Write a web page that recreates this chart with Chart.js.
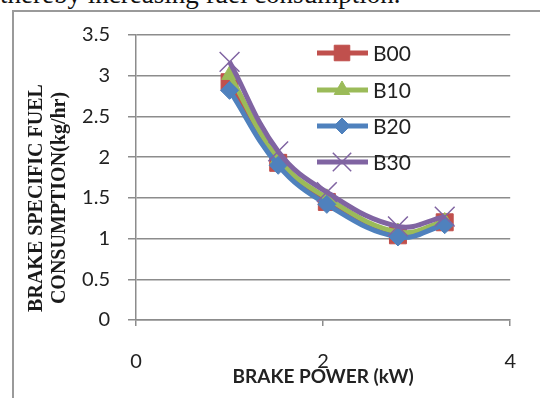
<!DOCTYPE html>
<html>
<head>
<meta charset="utf-8">
<script src="https://cdn.jsdelivr.net/npm/chart.js@4.4.1/dist/chart.umd.min.js"></script>
<style>
  html, body { margin: 0; padding: 0; background: #fff; }
  body { width: 540px; height: 398px; position: relative; overflow: hidden; }
  #topText { position: absolute; left: 0; top: -19px; font: 27px "Liberation Serif"; line-height: 27px; white-space: nowrap; color: #111; }
  #frame { position: absolute; left: 12px; top: 10px; width: 600px; height: 500px; border-left: 2px solid #9a9a9a; border-top: 2px solid #9a9a9a; }
  #wrap { position: absolute; left: 0; top: 0; width: 540px; height: 398px; }
</style>
</head>
<body>
<div id="topText">thereby increasing fuel consumption.</div>
<div id="frame"></div>
<div id="wrap"><canvas id="bsfcChart"></canvas></div>
<script>
// Dados
const brakePower = [1.0, 1.52, 2.04, 2.8, 3.3];
const b00 = [2.92, 1.93, 1.45, 1.04, 1.2];
const b10 = [3.01, 1.98, 1.5, 1.08, 1.21];
const b20 = [2.82, 1.9, 1.42, 1.02, 1.17];
const b30 = [3.17, 2.07, 1.57, 1.15, 1.27];
const seriesNames = ['B00', 'B10', 'B20', 'B30'];
const xTickValues = [0, 2, 4];
const xTickLabels = ['0', '2', '4'];
const yTickValues = [0, 0.5, 1, 1.5, 2, 2.5, 3, 3.5];
const yTickLabels = ['0', '0.5', '1', '1.5', '2', '2.5', '3', '3.5'];

const gridColor = '#8c8c8c';
const font = 'Lato';

function pts(ys) {
    return brakePower.map((x, i) => ({ x: x, y: ys[i] }));
}

function makeSet(name, ys, color, style, radius, order) {
    return {
        label: name,
        data: pts(ys),
        showLine: true,
        borderColor: color,
        backgroundColor: color,
        borderWidth: 5,
        tension: 0.4,
        pointStyle: style,
        pointRadius: radius,
        pointBorderWidth: style === 'crossRot' ? 1.5 : 1,
        pointBorderColor: color,
        pointBackgroundColor: color,
        order: order
    };
}

// Legenda e título do eixo Y desenhados à mão
const extras = {
    id: 'extras',
    afterDraw(chart) {
        const ctx = chart.ctx;
        ctx.save();
        ctx.fillStyle = '#1a1a1a';
        ctx.font = 'bold 20px "Liberation Serif"';
        ctx.textAlign = 'center';
        ctx.textBaseline = 'middle';
        ctx.translate(37, 198);
        ctx.rotate(-Math.PI / 2);
        ctx.fillText('BRAKE SPECIFIC FUEL', 0, 0);
        ctx.fillText('CONSUMPTION(kg/hr)', 0, 23);
        ctx.restore();

        const rows = [53, 90, 126, 162];
        const legendRadius = { rect: 11, triangle: 9, rectRot: 8, crossRot: 13 };
        chart.data.datasets.forEach((ds, i) => {
            const y = rows[i];
            ctx.save();
            ctx.strokeStyle = ds.borderColor;
            ctx.lineWidth = 5;
            ctx.beginPath();
            ctx.moveTo(317, y);
            ctx.lineTo(368, y);
            ctx.stroke();
            ctx.fillStyle = ds.borderColor;
            ctx.lineWidth = ds.pointBorderWidth;
            Chart.helpers.drawPoint(ctx, {
                pointStyle: ds.pointStyle,
                radius: legendRadius[ds.pointStyle],
                borderWidth: ds.pointBorderWidth,
                rotation: 0
            }, 342, y);
            ctx.fillStyle = '#222';
            ctx.font = '21px ' + font;
            ctx.textAlign = 'left';
            ctx.textBaseline = 'middle';
            ctx.fillText(ds.label, 373, y + 1);
            ctx.restore();
        });
    }
};

const ctx = document.getElementById('bsfcChart').getContext('2d');
const chart = new Chart(ctx, {
    type: 'scatter',
    data: {
        datasets: [
            makeSet(seriesNames[0], b00, '#C0504D', 'rect', 12, 4),
            makeSet(seriesNames[1], b10, '#9BBB59', 'triangle', 9, 3),
            makeSet(seriesNames[2], b20, '#4F81BD', 'rectRot', 9, 2),
            makeSet(seriesNames[3], b30, '#8064A2', 'crossRot', 14, 1)
        ]
    },
    options: {
        responsive: true,
        maintainAspectRatio: false,
        animation: false,
        layout: { padding: { top: 35, right: 29, left: 0, bottom: 0 } },
        plugins: { legend: { display: false }, tooltip: { enabled: false } },
        scales: {
            x: {
                type: 'linear',
                min: 0,
                max: 4,
                afterBuildTicks: s => { s.ticks = xTickValues.map(v => ({ value: v })); },
                afterFit: s => { s.height = 78; },
                ticks: {
                    font: { family: font, size: 20 }, color: '#222', padding: 24,
                    callback: (v, i) => xTickLabels[i]
                },
                grid: { drawOnChartArea: false, drawTicks: true, tickLength: 6, color: gridColor, lineWidth: 1.5 },
                border: { display: true, color: gridColor, width: 1.5 },
                title: {
                    display: true,
                    text: 'BRAKE POWER (kW)',
                    color: '#222',
                    font: { family: font, size: 19, weight: 'bold' },
                    padding: { top: 0, bottom: 10 }
                }
            },
            y: {
                min: 0,
                max: 3.5,
                afterBuildTicks: s => { s.ticks = yTickValues.map(v => ({ value: v })); },
                afterFit: s => { s.width = 136; },
                ticks: {
                    font: { family: font, size: 20 }, color: '#222', padding: 18,
                    callback: (v, i) => yTickLabels[i]
                },
                grid: { color: gridColor, lineWidth: 1.5, tickLength: 8 },
                border: { display: true, color: gridColor, width: 1.5 }
            }
        }
    },
    plugins: [extras]
});
</script>
</body>
</html>
